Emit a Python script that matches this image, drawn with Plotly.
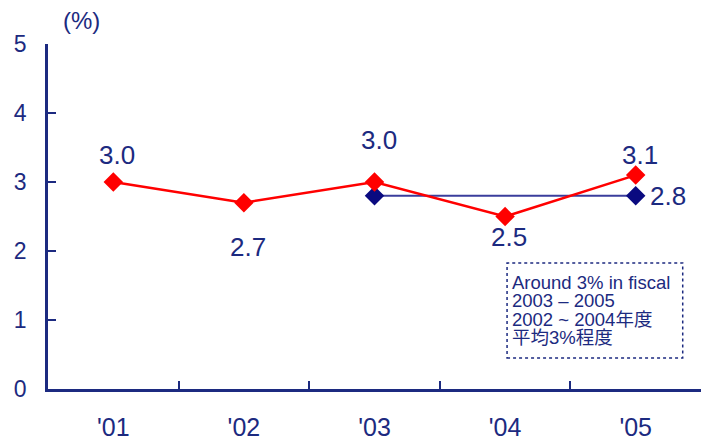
import plotly.graph_objects as go

categories = ["'01", "'02", "'03", "'04", "'05"]
actual = [3.0, 2.7, 3.0, 2.5, 3.1]
average_x = ["'03", "'05"]
average = [2.8, 2.8]
actual_label_shift = [27, -44, 42, -20, 20]
y_ticks = [0, 1, 2, 3, 4, 5]
note_lines = ["Around 3% in fiscal", "2003 – 2005", "2002 ~ 2004年度", "平均3%程度"]

NAVY = "#1c2a80"
FONT = "Liberation Sans, Arial, Noto Sans CJK JP, sans-serif"

fig = go.Figure()
fig.add_trace(go.Scatter(
    x=average_x, y=average, mode="lines+markers",
    line=dict(color="#3a3d9c", width=2),
    marker=dict(symbol="diamond", size=15, color="#0a0a80"),
    hoverinfo="skip", showlegend=False))
fig.add_trace(go.Scatter(
    x=categories, y=actual, mode="lines+markers",
    line=dict(color="#ff0000", width=2.5),
    marker=dict(symbol="diamond", size=15, color="#ff0000"),
    hoverinfo="skip", showlegend=False))

for c, v, s in zip(categories, actual, actual_label_shift):
    fig.add_annotation(x=c, y=v, text=f"{v:.1f}", showarrow=False,
                       yshift=s, xshift=4, font=dict(size=26, color=NAVY, family=FONT))
fig.add_annotation(x=average_x[-1], y=average[-1], text=f"{average[-1]:.1f}",
                   showarrow=False, xanchor="left", xshift=12,
                   font=dict(size=26, color=NAVY, family=FONT))

fig.add_annotation(xref="paper", yref="paper", x=0.052, y=1.0, xanchor="center",
                   yanchor="bottom", yshift=8, text="(%)", showarrow=False,
                   font=dict(size=24, color=NAVY, family=FONT))

fig.add_shape(type="rect", xref="paper", yref="paper", x0=0.703, x1=0.972,
              y0=0.090, y1=0.365, line=dict(color=NAVY, width=1.5, dash="dot"))
note_text = "<br>".join(f'<span style="font-size:18.5px">{t}</span>' for t in note_lines)
fig.add_annotation(xref="paper", yref="paper", x=0.709, y=0.228,
                   xanchor="left", yanchor="middle", align="left",
                   showarrow=False, borderpad=0, text=note_text,
                   font=dict(size=14.1, color=NAVY, family=FONT))

fig.update_layout(
    width=701, height=443,
    margin=dict(l=48, r=0, t=44, b=54, autoexpand=False),
    plot_bgcolor="white", paper_bgcolor="white",
    font=dict(family=FONT, color=NAVY),
    xaxis=dict(type="category", categoryorder="array", categoryarray=categories,
               range=[-0.5, 4.5], showline=True, linecolor=NAVY, linewidth=2.5,
               ticks="inside", ticklen=8, tickwidth=2, tickcolor=NAVY,
               tickson="boundaries", showgrid=False, ticklabelstandoff=14,
               tickfont=dict(size=25, color=NAVY, family=FONT)),
    yaxis=dict(range=[0, 5], tickvals=y_ticks, showline=True, linecolor=NAVY,
               linewidth=2.5, ticks="inside", ticklen=8, tickwidth=2, tickcolor=NAVY,
               showgrid=False, zeroline=False, ticklabelstandoff=14,
               tickfont=dict(size=23, color=NAVY, family=FONT)),
)

fig.write_html("out.html", config={"displayModeBar": False})
with open("out.html", "r", encoding="utf-8") as f:
    html = f.read()
html = html.replace("<body>", '<body style="margin:0;overflow:hidden">', 1)
with open("out.html", "w", encoding="utf-8") as f:
    f.write(html)
